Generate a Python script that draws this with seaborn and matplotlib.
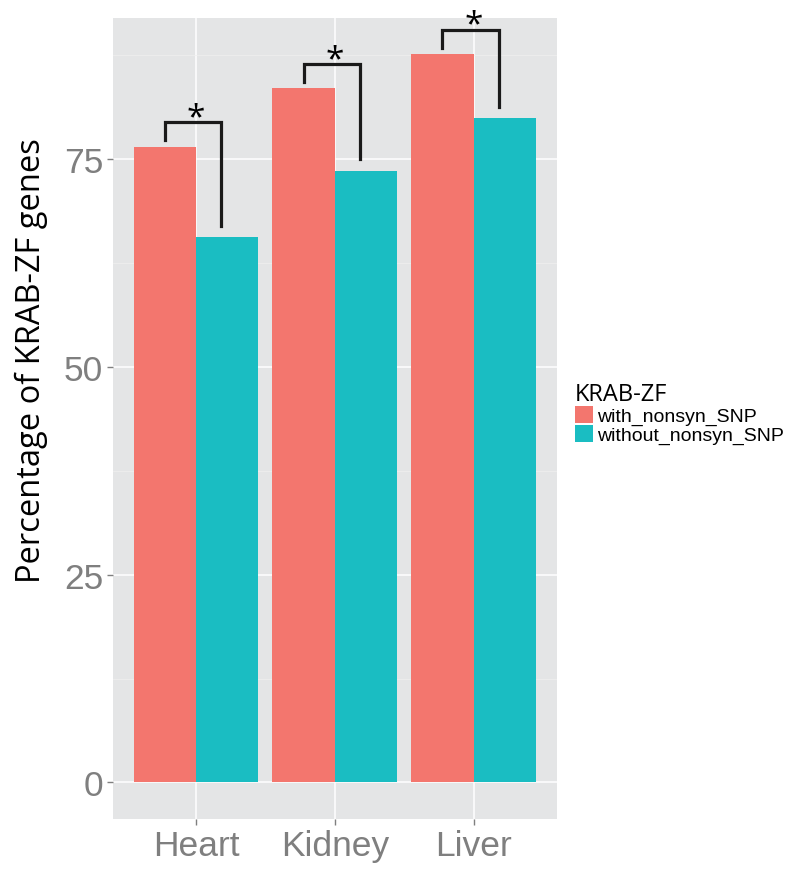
import numpy as np
import pandas as pd
import matplotlib
matplotlib.use('Agg')
import matplotlib.pyplot as plt
import seaborn as sns
from matplotlib.patches import Patch

# dados
tissues = ['Heart', 'Kidney', 'Liver']
with_snp = [76.5, 83.5, 87.6]
without_snp = [65.6, 73.6, 79.9]
groups = ['with_nonsyn_SNP', 'without_nonsyn_SNP']
cores = ['#F3766E', '#1ABDC2']

df = pd.DataFrame({
    'tissue': tissues * 2,
    'pct': with_snp + without_snp,
    'KRAB-ZF': [groups[0]] * 3 + [groups[1]] * 3,
})

fig = plt.figure(figsize=(8, 8.7), dpi=100)
ax = fig.add_axes([0.141, 0.0575, 0.555, 0.921])
ax.set_facecolor('#E4E5E6')

sns.barplot(data=df, x='tissue', y='pct', hue='KRAB-ZF', order=tissues,
            hue_order=groups, palette=cores, width=0.9, gap=0,
            saturation=1, errorbar=None, ax=ax, zorder=2, legend=False)

ax.set_xlim(-0.6, 2.6)
ax.set_ylim(-4.4, 92)
ax.set_yticks([0, 25, 50, 75])
ax.set_yticks([12.5, 37.5, 62.5, 87.5], minor=True)

# grade estilo ggplot
ax.grid(True, which='major', color='white', linewidth=1.1, zorder=0)
ax.grid(True, which='minor', axis='y', color='#F0F0F0', linewidth=0.5, zorder=0)
ax.set_axisbelow(True)
for s in ax.spines.values():
    s.set_visible(False)

ax.tick_params(axis='both', which='major', labelsize=25.5, colors='#7F7F7F',
               length=4, width=1, pad=3)
ax.tick_params(axis='both', which='minor', length=0)
for lab in ax.get_xticklabels() + ax.get_yticklabels():
    lab.set_family('Liberation Sans')
    lab.set_color('#7F7F7F')
ax.set_xlabel('')
ax.set_ylabel('Percentage of KRAB-ZF genes', fontsize=23.5, family='Open Sans',
              color='black')
ax.yaxis.set_label_coords(-0.147, 0.573)

# colchetes de significancia
for i, (a, b) in enumerate(zip(with_snp, without_snp)):
    top = max(a, b) + 2.9
    ax.plot([i - 0.225, i - 0.225, i + 0.18, i + 0.18],
            [a + 0.8, top, top, b + 1.4], color='#1A1A1A', linewidth=2.3,
            solid_joinstyle='miter', zorder=3)
    ax.text(i, top - 1.4, '*', ha='center', va='bottom', fontsize=24,
            family='Open Sans', color='black', zorder=3)

handles = [Patch(facecolor=c, edgecolor='none') for c in cores]
leg = fig.legend(handles, groups, title='KRAB-ZF', loc='upper left',
                 bbox_to_anchor=(0.706, 0.571), frameon=False, fontsize=14,
                 handlelength=0.95, handleheight=0.95, handletextpad=0.2,
                 labelspacing=0.0, borderpad=0, alignment='left')
leg.get_title().set_fontsize(17)
leg.get_title().set_family('Open Sans')
for t in leg.get_texts():
    t.set_family('Liberation Sans')

fig.savefig('out.png', dpi=100)
